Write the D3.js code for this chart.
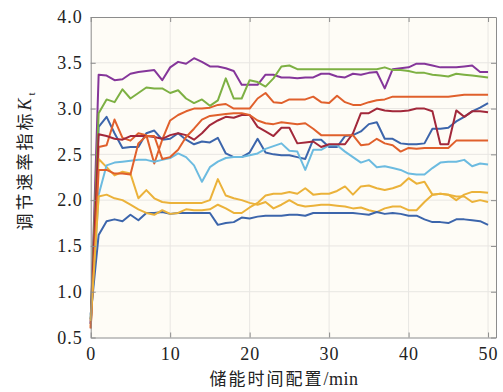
<!DOCTYPE html>
<html>
<head>
<meta charset="utf-8">
<script src="https://cdn.jsdelivr.net/npm/d3@7"></script>
<style>
  body { margin: 0; background: #fff; }
  svg { display: block; }
</style>
</head>
<body>
<div id="viz"></div>
<script>
// Data, t = 0..50 min.
var minutes = d3.range(0, 51);
var xTicks = [0, 10, 20, 30, 40, 50];
var yTicks = [0.5, 1.0, 1.5, 2.0, 2.5, 3.0, 3.5, 4.0];

var blue1 = [0.70, 2.80, 2.91, 2.73, 2.57, 2.58, 2.58, 2.73, 2.76, 2.66, 2.67, 2.73, 2.66, 2.61, 2.64, 2.63, 2.68, 2.51, 2.47, 2.47, 2.52,
  2.67, 2.52, 2.50, 2.49, 2.49, 2.47, 2.45, 2.66, 2.66, 2.58, 2.58, 2.70, 2.71, 2.75, 2.83, 2.85, 2.67, 2.67, 2.62, 2.61,
  2.61, 2.62, 2.78, 2.78, 2.79, 2.86, 2.91, 2.97, 3.01, 3.06];
var orange1 = [0.60, 2.58, 2.60, 2.88, 2.68, 2.65, 2.73, 2.71, 2.40, 2.66, 2.87, 2.93, 2.97, 3.00, 3.00, 3.01, 3.04, 3.05, 3.00, 3.00, 3.00,
  3.11, 3.17, 3.07, 3.06, 3.10, 3.10, 3.10, 3.13, 3.07, 3.06, 3.14, 3.07, 3.04, 3.04, 3.07, 3.09, 3.10, 3.13, 3.13, 3.13,
  3.13, 3.13, 3.13, 3.13, 3.13, 3.14, 3.15, 3.15, 3.15, 3.15];
var yellow1 = [0.62, 2.45, 2.36, 2.27, 2.31, 2.29, 2.02, 2.11, 2.02, 1.98, 1.97, 1.97, 1.97, 1.97, 1.97, 2.00, 2.23, 2.05, 2.02, 2.00, 1.97,
  1.95, 1.98, 1.91, 1.95, 2.00, 1.95, 1.93, 1.94, 1.95, 1.95, 1.94, 1.93, 1.91, 1.92, 1.89, 1.87, 1.91, 1.93, 1.93, 1.89,
  1.89, 1.98, 2.06, 2.07, 2.06, 2.04, 2.04, 1.98, 2.00, 1.98];
var purple = [0.65, 3.37, 3.36, 3.31, 3.32, 3.38, 3.40, 3.41, 3.42, 3.31, 3.45, 3.51, 3.49, 3.55, 3.51, 3.46, 3.46, 3.44, 3.41, 3.26, 3.26,
  3.26, 3.37, 3.37, 3.34, 3.34, 3.33, 3.34, 3.34, 3.38, 3.38, 3.35, 3.34, 3.38, 3.37, 3.39, 3.40, 3.22, 3.43, 3.44, 3.45,
  3.49, 3.49, 3.47, 3.45, 3.45, 3.45, 3.46, 3.47, 3.40, 3.40];
var green = [0.70, 2.95, 3.10, 3.07, 3.21, 3.11, 3.17, 3.23, 3.22, 3.22, 3.17, 3.20, 3.11, 3.06, 3.10, 3.03, 3.09, 3.33, 3.11, 3.11, 3.31,
  3.29, 3.24, 3.33, 3.46, 3.47, 3.43, 3.43, 3.43, 3.43, 3.43, 3.43, 3.43, 3.43, 3.43, 3.43, 3.43, 3.45, 3.42, 3.42, 3.41,
  3.39, 3.39, 3.37, 3.36, 3.35, 3.38, 3.37, 3.36, 3.35, 3.34];
var lightBlue = [0.65, 2.06, 2.38, 2.41, 2.42, 2.43, 2.44, 2.44, 2.42, 2.44, 2.46, 2.51, 2.47, 2.38, 2.20, 2.36, 2.42, 2.46, 2.47, 2.47, 2.49,
  2.51, 2.56, 2.59, 2.62, 2.54, 2.53, 2.33, 2.55, 2.55, 2.60, 2.60, 2.53, 2.47, 2.41, 2.44, 2.36, 2.37, 2.35, 2.33, 2.29,
  2.28, 2.28, 2.35, 2.41, 2.42, 2.42, 2.44, 2.37, 2.40, 2.39];
var darkRed = [0.65, 2.72, 2.70, 2.67, 2.66, 2.70, 2.70, 2.70, 2.69, 2.67, 2.71, 2.73, 2.71, 2.66, 2.73, 2.82, 2.87, 2.91, 2.90, 2.93, 2.93,
  2.80, 2.75, 2.70, 2.79, 2.79, 2.62, 2.63, 2.64, 2.58, 2.61, 2.61, 2.61, 2.73, 2.95, 2.95, 3.00, 2.98, 2.97, 2.97, 2.98,
  3.00, 3.00, 2.97, 2.61, 2.61, 2.98, 2.91, 2.97, 2.97, 2.96];
var blue2 = [0.75, 1.62, 1.77, 1.79, 1.77, 1.84, 1.78, 1.86, 1.86, 1.87, 1.85, 1.86, 1.86, 1.86, 1.86, 1.86, 1.73, 1.75, 1.76, 1.81, 1.80,
  1.82, 1.83, 1.83, 1.83, 1.84, 1.84, 1.83, 1.86, 1.86, 1.86, 1.86, 1.86, 1.86, 1.85, 1.84, 1.87, 1.85, 1.86, 1.85, 1.83,
  1.83, 1.79, 1.76, 1.76, 1.75, 1.79, 1.79, 1.78, 1.77, 1.73];
var orange2 = [0.60, 2.33, 2.33, 2.29, 2.29, 2.28, 2.62, 2.70, 2.70, 2.45, 2.47, 2.55, 2.69, 2.78, 2.88, 2.92, 2.93, 2.94, 2.95, 2.95, 2.93,
  2.87, 2.84, 2.83, 2.85, 2.84, 2.83, 2.84, 2.78, 2.71, 2.71, 2.71, 2.71, 2.71, 2.60, 2.61, 2.67, 2.62, 2.60, 2.53, 2.57,
  2.56, 2.57, 2.57, 2.57, 2.57, 2.65, 2.65, 2.65, 2.65, 2.65];
var yellow2 = [0.68, 2.04, 2.06, 2.02, 2.00, 1.95, 1.90, 1.86, 1.84, 1.89, 1.85, 1.86, 1.90, 1.89, 1.89, 1.90, 1.95, 1.91, 1.86, 1.86, 1.92,
  1.97, 2.05, 2.07, 2.07, 2.09, 2.07, 2.13, 2.06, 2.07, 2.07, 2.10, 2.15, 2.06, 2.15, 2.16, 2.13, 2.11, 2.13, 2.16, 2.24,
  2.18, 2.20, 2.06, 2.07, 2.06, 2.00, 2.06, 2.09, 2.09, 2.08];

var series = [blue1, orange1, yellow1, purple, green, lightBlue, darkRed, blue2, orange2, yellow2];
var colors = ["#3c65ab", "#e0602c", "#ebb23a", "#85369a", "#7db043", "#6cbbe0", "#a2283a", "#3c65ab", "#e0602c", "#ebb23a"];

// Layout.
var width = 503, height = 392;
var plotL = 90.7, plotR = 496, plotT = 17, plotB = 337.5;

var svg = d3.select("#viz")
	.append("svg")
	.attr("width", width)
	.attr("height", height);

var x = d3.scaleLinear().domain([0, 51]).range([plotL, plotR]);
var y = d3.scaleLinear().domain([0.5, 4.0]).range([plotB, plotT]);

// Plot background.
svg.append("rect")
	.attr("x", plotL).attr("y", plotT)
	.attr("width", plotR - plotL).attr("height", plotB - plotT)
	.style("fill", "#fefcf6");

// Grid.
svg.append("g").selectAll("line")
	.data(xTicks.slice(1))
	.enter().append("line")
	.attr("x1", function(d) { return x(d); }).attr("x2", function(d) { return x(d); })
	.attr("y1", plotT).attr("y2", plotB)
	.style("stroke", "#e8e6e2").style("stroke-width", 1);

svg.append("g").selectAll("line")
	.data(yTicks.slice(1, -1))
	.enter().append("line")
	.attr("y1", function(d) { return y(d); }).attr("y2", function(d) { return y(d); })
	.attr("x1", plotL).attr("x2", plotR)
	.style("stroke", "#e8e6e2").style("stroke-width", 1);

// Lines.
var line = d3.line()
	.x(function(d, i) { return x(minutes[i]); })
	.y(function(d) { return y(d); });

for (var i = 0; i < series.length; i++)
{
	svg.append("path")
		.datum(series[i])
		.attr("d", line)
		.style("fill", "none")
		.style("stroke", colors[i])
		.style("stroke-width", 2)
		.style("stroke-linejoin", "round");
}

// Axes (ticks inward, box all round).
var axisColor = "#8c8c8c";
svg.append("g")
	.attr("transform", "translate(0," + plotB + ")")
	.call(d3.axisBottom(x).tickValues(xTicks).tickSizeInner(-5).tickSizeOuter(0).tickPadding(10).tickFormat(d3.format("d")));
svg.append("g")
	.attr("transform", "translate(" + plotL + ",0)")
	.call(d3.axisLeft(y).tickValues(yTicks).tickSizeInner(-5).tickSizeOuter(0).tickPadding(8).tickFormat(d3.format(".1f")));
svg.append("g")
	.attr("transform", "translate(0," + plotT + ")")
	.call(d3.axisTop(x).tickValues(xTicks).tickSizeInner(-5).tickSizeOuter(0).tickFormat(""));
svg.append("g")
	.attr("transform", "translate(" + plotR + ",0)")
	.call(d3.axisRight(y).tickValues(yTicks).tickSizeInner(-5).tickSizeOuter(0).tickFormat(""));

svg.selectAll(".domain, .tick line").style("stroke", axisColor);
svg.selectAll(".tick text")
	.style("font-family", "'Liberation Serif', 'DejaVu Serif', serif")
	.style("font-size", "18px")
	.style("letter-spacing", "1px")
	.style("fill", "#222");

// Axis titles.
svg.append("text")
	.attr("x", 284).attr("y", 385)
	.attr("text-anchor", "middle")
	.style("font-family", "'Noto Sans CJK SC', sans-serif")
	.style("font-size", "17px")
	.style("letter-spacing", "2px")
	.style("fill", "#222")
	.text("储能时间配置")
	.append("tspan")
	.style("font-family", "'Liberation Serif', serif")
	.style("font-size", "18px")
	.style("letter-spacing", "0.5px")
	.text("/min");

var ylab = svg.append("text")
	.attr("transform", "translate(31,160) rotate(-90)")
	.attr("text-anchor", "middle")
	.style("font-family", "'Noto Sans CJK SC', sans-serif")
	.style("font-size", "17px")
	.style("letter-spacing", "3px")
	.style("fill", "#222")
	.text("调节速率指标");
ylab.append("tspan")
	.style("font-family", "'Liberation Serif', serif")
	.style("font-style", "italic")
	.style("font-size", "18px")
	.text("K");
ylab.append("tspan")
	.attr("dy", 4)
	.style("font-family", "'Liberation Serif', serif")
	.style("font-size", "11px")
	.text("t");
</script>
</body>
</html>
